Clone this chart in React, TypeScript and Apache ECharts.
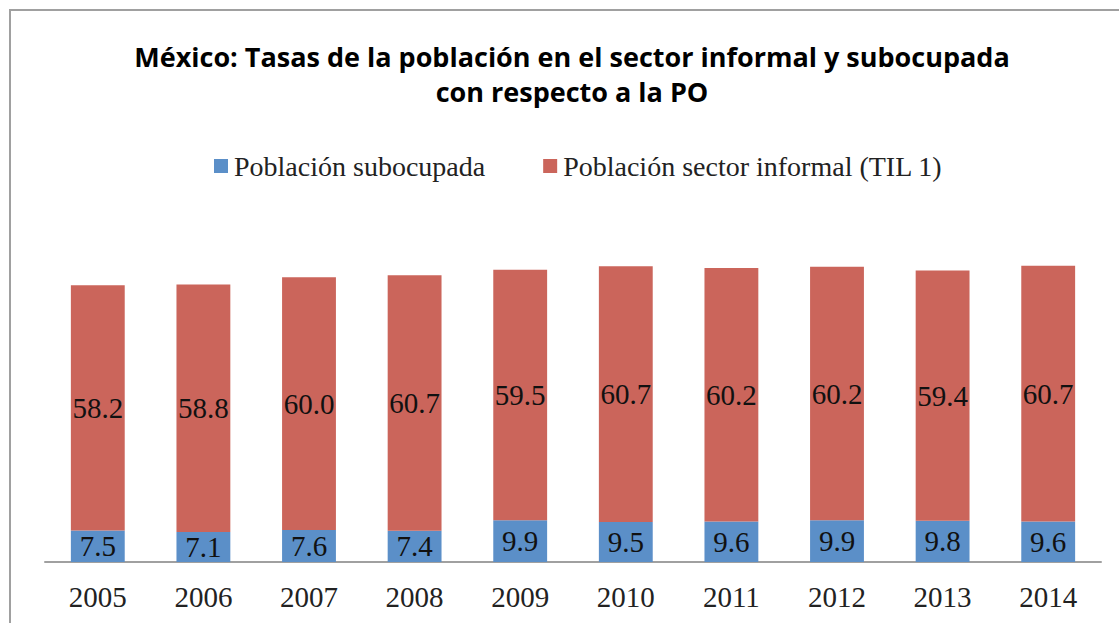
import React, { useEffect, useRef } from "react";
import * as echarts from "echarts";

const years = ["2005", "2006", "2007", "2008", "2009", "2010", "2011", "2012", "2013", "2014"];
const subocupada = [7.5, 7.1, 7.6, 7.4, 9.9, 9.5, 9.6, 9.9, 9.8, 9.6];
const informal = [58.2, 58.8, 60.0, 60.7, 59.5, 60.7, 60.2, 60.2, 59.4, 60.7];
const seriesNames = ["Población subocupada", "Población sector informal (TIL 1)"];
const titleText = "México: Tasas de la población en el sector informal y subocupada\ncon respecto a la PO";

const serif = "'Liberation Serif', 'DejaVu Serif', serif";

export default function App() {
  const ref = useRef<HTMLDivElement>(null);
  useEffect(() => {
    if (!ref.current) return;
    const chart = echarts.init(ref.current, undefined, { renderer: "svg" });
    chart.setOption({
      animation: false,
      backgroundColor: "#ffffff",
      graphic: [
        {
          type: "rect",
          shape: { x: 10, y: 10, width: 1200, height: 700 },
          style: { fill: "none", stroke: "#A0A0A0", lineWidth: 2 },
          silent: true,
        },
        {
          type: "text",
          x: 572,
          y: 39,
          silent: true,
          style: {
            text: titleText,
            align: "center",
            verticalAlign: "top",
            fontFamily: "'Open Sans', Lato, sans-serif",
            fontWeight: "bold",
            fontSize: 27,
            lineHeight: 35,
            fill: "#000000",
          },
        },
      ],
      legend: {
        top: 147,
        left: 209,
        itemWidth: 14,
        itemHeight: 14,
        itemGap: 58,
        icon: "rect",
        textStyle: { fontFamily: serif, fontSize: 28, color: "#222222", padding: [0, 0, 0, 1] },
        data: seriesNames,
      },
      grid: { left: 45, right: 18, top: 225, bottom: 61, containLabel: false },
      xAxis: {
        type: "category",
        data: years,
        axisLine: { show: true, lineStyle: { color: "#A0A0A0", width: 2 } },
        axisTick: { show: false },
        axisLabel: { fontFamily: serif, fontSize: 29, color: "#222222", margin: 20 },
      },
      yAxis: {
        type: "value",
        min: 0,
        max: 80,
        show: false,
        splitLine: { show: false },
      },
      series: [
        {
          name: seriesNames[0],
          type: "bar",
          stack: "total",
          data: subocupada,
          barWidth: "51%",
          itemStyle: { color: "#5B8FC8" },
          label: {
            show: true,
            position: "inside",
            formatter: (p: any) => Number(p.value).toFixed(1),
            fontFamily: serif,
            fontSize: 29,
            color: "#111111",
          },
        },
        {
          name: seriesNames[1],
          type: "bar",
          stack: "total",
          data: informal,
          barWidth: "51%",
          itemStyle: { color: "#CB655B" },
          label: {
            show: true,
            position: "inside",
            formatter: (p: any) => Number(p.value).toFixed(1),
            fontFamily: serif,
            fontSize: 29,
            color: "#111111",
          },
        },
      ],
    });
    return () => chart.dispose();
  }, []);
  return (
    <div
      ref={ref}
      style={{ position: "fixed", left: 0, top: 0, width: 1119, height: 623 }}
    />
  );
}
